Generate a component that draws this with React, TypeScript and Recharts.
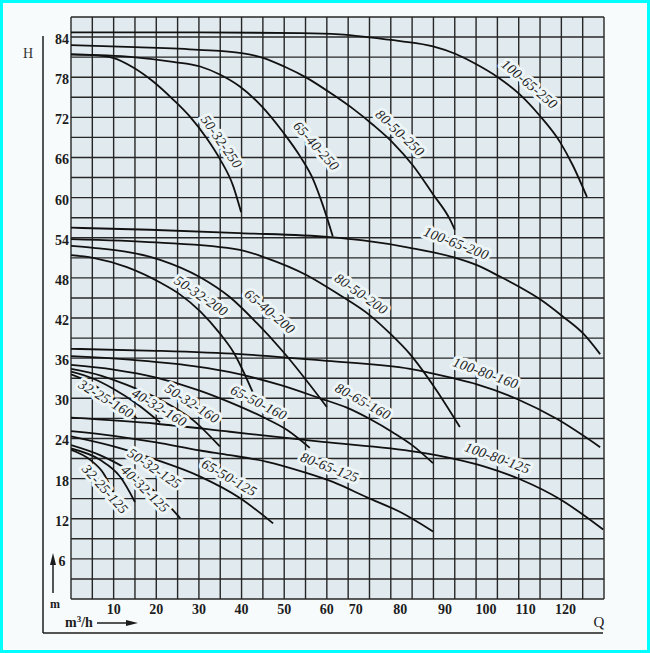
import { LineChart, Line, XAxis, YAxis, CartesianGrid, ReferenceDot } from 'recharts';

// axis ticks (Q positions of the printed labels drift on the original sheet)
const qTicks = [10, 20, 30, 40, 50, 60, 66.8, 77.2, 87.7, 97.3, 106.6, 116];
const qTickLabels = ['10', '20', '30', '40', '50', '60', '70', '80', '90', '100', '110', '120'];
const hTicks = [6, 12, 18, 24, 30, 36, 42, 48, 54, 60, 66, 72, 78, 84];
const qGrid = [0, 5, 10, 15, 20, 25, 30, 35, 40, 45, 50, 55, 60, 65, 70, 75, 80, 85, 90, 95, 100, 105, 110, 115, 120, 125];
const hGrid = [0, 3, 6, 9, 12, 15, 18, 21, 24, 27, 30, 33, 36, 39, 42, 45, 48, 51, 54, 57, 60, 63, 66, 69, 72, 75, 78, 81, 84, 87];

// pump curves, Q (m3/h) and H (m)
const q_100_65_250 = [0, 30, 54, 63, 69.4, 77.2, 84.9, 90.1, 94.3, 100.1, 105.3, 110, 114.7, 117.7, 121];
const h_100_65_250 = [84.7, 84.7, 84.6, 84.4, 84.0, 83.4, 82.6, 81.5, 80.2, 78.0, 75.4, 72.2, 68.3, 64.8, 60.1];
const q_80_50_250 = [0, 15, 30, 40, 45, 50, 55.3, 61.4, 66.1, 70.8, 75.5, 80.2, 84.9, 88.9, 90];
const h_80_50_250 = [82.8, 82.5, 82.1, 81.6, 80.9, 79.6, 77.9, 75.4, 73.3, 70.9, 68.2, 64.8, 60.5, 56.7, 55.2];
const q_65_40_250 = [0, 14.5, 23.9, 30.3, 34.9, 39.6, 44.8, 49.7, 53.7, 56.8, 59.1, 61.4];
const h_65_40_250 = [81.4, 81.0, 80.3, 79.6, 78.4, 76.6, 73.6, 69.8, 66.2, 62.7, 58.8, 54.2];
const q_50_32_250 = [0, 5.2, 9.8, 14.5, 19.2, 23.9, 27.9, 31.9, 34.9, 38, 39.9];
const h_50_32_250 = [81.4, 81.3, 80.9, 79.5, 77.4, 74.7, 72.1, 68.8, 65.8, 61.8, 57.8];

const q_100_65_200 = [0, 18.5, 39.6, 60.7, 68.5, 79.5, 89.6, 95.2, 100.6, 105.3, 110, 115.4, 120.1, 124.1];
const h_100_65_200 = [55.5, 55.2, 54.7, 54.1, 53.6, 52.5, 51.1, 49.9, 48.2, 46.6, 44.8, 42.2, 39.7, 36.6];
const q_80_50_200 = [0, 20, 39.6, 45.7, 55.3, 63.1, 70.1, 74.8, 79.5, 85.5, 91.2];
const h_80_50_200 = [53.8, 53.3, 52.2, 51.0, 48.4, 45.4, 42.4, 39.7, 36.6, 31.4, 25.7];
const q_65_40_200 = [0, 5.2, 20.9, 30.3, 37.3, 43.5, 49.7, 60];
const h_65_40_200 = [52.8, 52.5, 50.7, 48.1, 45.1, 41.3, 37.0, 28.7];
const q_50_32_200 = [0, 5.2, 13.1, 20.9, 25.6, 30.3, 34.9, 38, 42.7];
const h_50_32_200 = [51.4, 51.0, 49.6, 47.3, 45.5, 43.0, 39.7, 37.0, 30.8];

const q_100_80_160 = [0, 20, 39.6, 60, 79.5, 89.6, 95.2, 104.6, 114, 124.1];
const h_100_80_160 = [37.4, 37.1, 36.6, 35.6, 34.4, 33.0, 32.1, 29.9, 26.9, 22.7];
const q_80_65_160 = [0, 15, 30, 37.3, 49, 58.4, 64.7, 70.1, 75.5, 80, 84.9];
const h_80_65_160 = [36.3, 35.7, 34.7, 33.9, 32.0, 30.0, 28.6, 26.9, 24.9, 23.0, 20.3];
const q_65_50_160 = [0, 10, 20, 30, 37.3, 45, 50.6, 56];
const h_65_50_160 = [35.0, 34.3, 33.1, 31.2, 29.4, 27.2, 25.3, 22.6];
const q_50_32_160 = [0, 7, 13.1, 20.9, 28.7, 34.9];
const h_50_32_160 = [34.4, 33.4, 32.0, 29.8, 26.7, 22.8];
const q_40_32_160 = [0, 5, 10, 15.4, 20.9];
const h_40_32_160 = [34.0, 33.0, 31.4, 29.2, 26.4];
const q_32_25_160 = [0, 4, 8, 12, 15.4];
const h_32_25_160 = [33.6, 32.5, 30.9, 29.0, 27.0];

const q_100_80_125 = [0, 20, 37.3, 59, 81, 89.6, 97, 105.3, 114.7, 120.1, 124.8];
const h_100_80_125 = [27.1, 26.2, 25.0, 23.5, 22.0, 21.0, 19.8, 17.9, 14.9, 12.6, 10.4];
const q_80_65_125 = [0, 10, 20, 30.3, 37.3, 46, 54.4, 61.4, 69.4, 77.2, 84.9];
const h_80_65_125 = [25.1, 24.4, 23.4, 22.2, 21.5, 20.5, 19.0, 17.5, 15.2, 13.0, 10.1];
const q_65_50_125 = [0, 10, 20, 30.3, 39.6, 47.4];
const h_65_50_125 = [24.3, 22.8, 20.8, 18.3, 15.1, 11.3];
const q_50_32_125 = [0, 6.8, 14.5, 20.9, 25.6];
const h_50_32_125 = [23.0, 21.5, 18.8, 15.3, 12.1];
const q_40_32_125 = [0, 6.8, 11.5, 15];
const h_40_32_125 = [22.5, 20.8, 18.3, 14.5];
const q_32_25_125 = [0, 4.5, 7.6, 9.9];
const h_32_25_125 = [22.3, 20.8, 18.8, 16.0];

const curveNames = [
    '100-65-250', '80-50-250', '65-40-250', '50-32-250',
    '100-65-200', '80-50-200', '65-40-200', '50-32-200',
    '100-80-160', '80-65-160', '65-50-160', '50-32-160', '40-32-160', '32-25-160',
    '100-80-125', '80-65-125', '65-50-125', '50-32-125', '40-32-125', '32-25-125',
];
const curveQ = [
    q_100_65_250, q_80_50_250, q_65_40_250, q_50_32_250,
    q_100_65_200, q_80_50_200, q_65_40_200, q_50_32_200,
    q_100_80_160, q_80_65_160, q_65_50_160, q_50_32_160, q_40_32_160, q_32_25_160,
    q_100_80_125, q_80_65_125, q_65_50_125, q_50_32_125, q_40_32_125, q_32_25_125,
];
const curveH = [
    h_100_65_250, h_80_50_250, h_65_40_250, h_50_32_250,
    h_100_65_200, h_80_50_200, h_65_40_200, h_50_32_200,
    h_100_80_160, h_80_65_160, h_65_50_160, h_50_32_160, h_40_32_160, h_32_25_160,
    h_100_80_125, h_80_65_125, h_65_50_125, h_50_32_125, h_40_32_125, h_32_25_125,
];

// where each curve name is written, and its slant
const labelQ = [106.9, 76.5, 56.8, 34.5, 90, 67.5, 46, 30, 96.9, 68, 43.6, 27.9, 20.2, 7.7, 99.7, 60.3, 36.6, 19, 16.7, 7.3];
const labelH = [76.5, 69.2, 67.3, 68, 52.6, 45.1, 42.5, 44.8, 33.2, 29, 28.8, 28.7, 28.1, 29.4, 20.5, 19.1, 17.6, 19, 16, 16];
const labelTilt = [40, 43, 48, 55, 21, 35, 40, 34, 20, 29, 27, 33, 31, 31, 20, 21, 30, 34, 44, 48];

const SERIF = '"Liberation Serif", "DejaVu Serif", serif';
const INK = '#1c1c1c';

function CurveLabel(props: any) {
    const { viewBox, text, tilt } = props;
    const cx = viewBox.x + (viewBox.width || 0) / 2;
    const cy = viewBox.y + (viewBox.height || 0) / 2;
    // names sit just above their curve, so nudge them off the line a little
    return (
        <text
            x={cx}
            y={cy}
            transform={`rotate(${tilt} ${cx} ${cy}) translate(0 -4)`}
            textAnchor="middle"
            dominantBaseline="central"
            fontFamily={SERIF}
            fontStyle="italic"
            fontSize={14}
            letterSpacing={0.3}
            fill={INK}
            stroke="#eef5f7"
            strokeWidth={6}
            strokeLinejoin="round"
            paintOrder="stroke"
        >
            {text}
        </text>
    );
}

function HTick(props: any) {
    const { x, y, payload } = props;
    return (
        <text x={x} y={y + 7} textAnchor="middle" fontFamily={SERIF} fontWeight="bold" fontSize={14} fill={INK}>
            {payload.value}
        </text>
    );
}

export default function App() {
    const curves = curveNames.map((name, i) => ({
        name,
        points: curveQ[i].map((q, j) => ({ q, h: curveH[i][j] })),
    }));

    return (
        <div style={{ position: 'absolute', left: 0, top: 0, width: 650, height: 653, background: '#f7fbfc' }}>
            <LineChart width={650} height={653} margin={{ top: 17, right: 46, bottom: 24, left: 41 }}>
                <CartesianGrid
                    stroke="#262626"
                    strokeWidth={1.4}
                    fill="#e1eaee"
                    fillOpacity={1}
                    verticalValues={qGrid}
                    horizontalValues={hGrid}
                />
                <XAxis
                    dataKey="q"
                    type="number"
                    domain={[0, 125]}
                    ticks={qTicks}
                    tickFormatter={(v: number, i: number) => qTickLabels[i]}
                    allowDataOverflow
                    height={30}
                    axisLine={false}
                    tickLine={false}
                    tickSize={4}
                    tickMargin={1}
                    tick={{ fontSize: 14, fill: INK, fontFamily: SERIF, fontWeight: 'bold' }}
                    interval={0}
                />
                <YAxis
                    type="number"
                    domain={[0, 87]}
                    ticks={hTicks}
                    allowDataOverflow
                    width={30}
                    axisLine={false}
                    tickLine={false}
                    tickSize={9}
                    tickMargin={0}
                    tick={<HTick />}
                    interval={0}
                />
                {curves.map((c) => (
                    <Line
                        key={c.name}
                        name={c.name}
                        data={c.points}
                        dataKey="h"
                        type="monotone"
                        stroke="#111"
                        strokeWidth={1.8}
                        dot={false}
                        activeDot={false}
                        isAnimationActive={false}
                    />
                ))}
                {curveNames.map((name, i) => (
                    <ReferenceDot
                        key={'lbl-' + name}
                        x={labelQ[i]}
                        y={labelH[i]}
                        r={0}
                        fill="none"
                        stroke="none"
                        label={<CurveLabel text={name} tilt={labelTilt[i]} />}
                    />
                ))}
            </LineChart>
            <svg
                width={650}
                height={653}
                style={{ position: 'absolute', left: 0, top: 0, pointerEvents: 'none' }}
            >
                <rect x={1.5} y={1.5} width={647} height={650} fill="none" stroke="#00ffff" strokeWidth={3} />
                <line x1={43} y1={36} x2={43} y2={633} stroke={INK} strokeWidth={1.5} />
                <line x1={43} y1={633} x2={603} y2={633} stroke={INK} strokeWidth={1.5} />
                <text x={28} y={58} textAnchor="middle" fontFamily={SERIF} fontSize={14} fill="#333">H</text>
                <line x1={53} y1={593} x2={53} y2={562} stroke={INK} strokeWidth={1.5} />
                <polygon points="53,553 50,565 56,565" fill={INK} />
                <text x={55} y={608} textAnchor="middle" fontFamily={SERIF} fontWeight="bold" fontSize={12} fill={INK}>m</text>
                <text x={65} y={627} fontFamily={SERIF} fontWeight="bold" fontSize={14} fill={INK}>
                    m<tspan dy={-5} fontSize={9}>3</tspan><tspan dy={5}>/h</tspan>
                </text>
                <line x1={97} y1={623} x2={128} y2={623} stroke={INK} strokeWidth={1.5} />
                <polygon points="138,623 126,620 126,626" fill={INK} />
                <text x={599} y={627} textAnchor="middle" fontFamily={SERIF} fontSize={15} fill={INK}>Q</text>
            </svg>
        </div>
    );
}
